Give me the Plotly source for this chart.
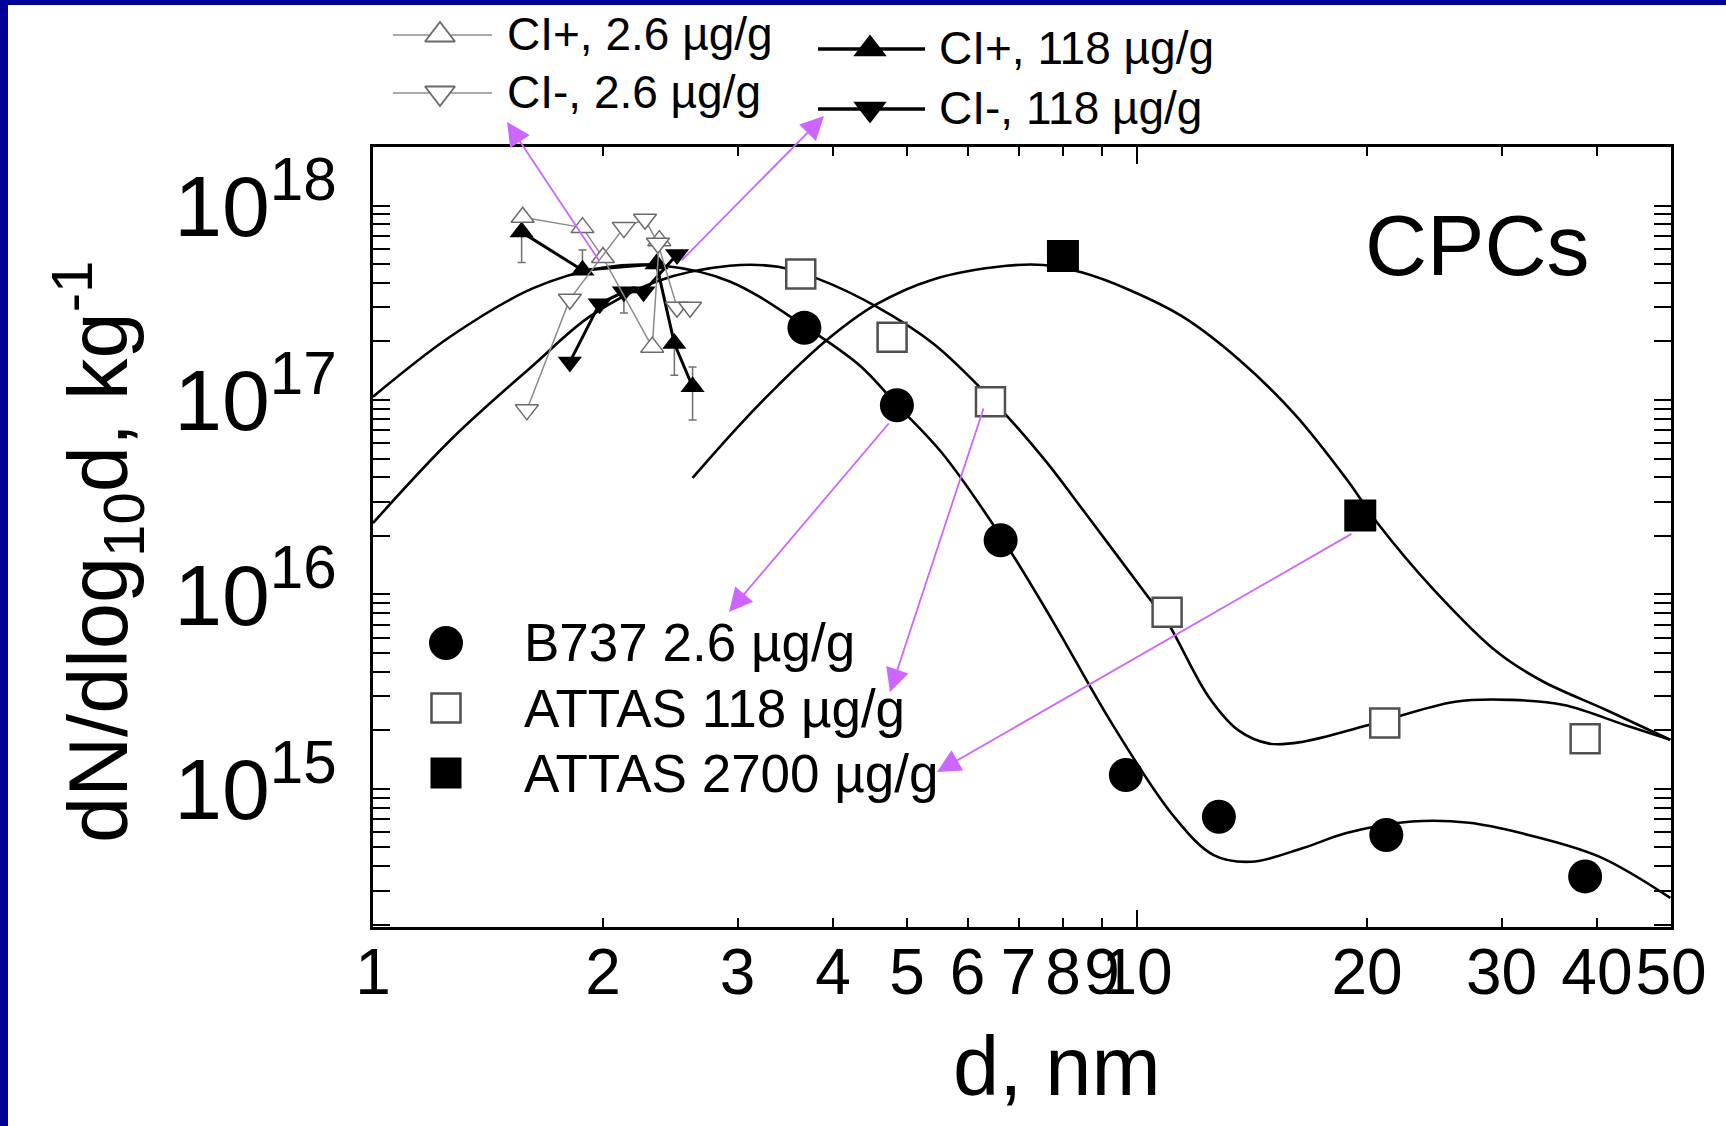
import numpy as np
import plotly.graph_objects as go

W, H = 1726, 1126
PL, PR, PT, PB = 373, 1671, 147, 927
FONT = "Liberation Sans, Arial, sans-serif"

# ---------------- data ----------------
b737_d = [3.67, 4.85, 6.63, 9.67, 12.8, 21.2, 38.6]
b737_n = [2.35e17, 9.4e16, 1.9e16, 1.18e15, 7.2e14, 5.8e14, 3.55e14]

attas118_d = [3.63, 4.78, 6.43, 10.95, 21.1, 38.6]
attas118_n = [4.45e17, 2.1e17, 9.8e16, 8.1e15, 2.18e15, 1.81e15]

attas2700_d = [8.0, 19.6]
attas2700_n = [5.5e17, 2.55e16]

fit_b737_d = [1.0, 1.267, 1.621, 1.995, 2.4, 2.93, 3.67, 4.34, 4.85, 5.55, 6.63, 7.74,
              9.29, 11.17, 12.6, 14.1, 16.5, 18.8, 22.9, 27.2, 31.8, 40.2, 49.9]
fit_b737_n = [1.04e17, 2.14e17, 3.76e17, 4.79e17, 4.9e17, 4.07e17, 2.4e17, 1.5e17, 9.44e16,
              5.37e16, 2.0e16, 7.41e15, 2.14e15, 7.24e14, 4.57e14, 4.22e14, 4.97e14, 5.93e14,
              6.8e14, 6.7e14, 5.93e14, 4.5e14, 2.75e14]

fit_118_d = [1.0, 1.267, 1.621, 1.923, 2.35, 2.93, 3.39, 3.84, 4.56, 5.41, 6.43, 7.55, 8.59,
             10.33, 10.95, 12.4, 13.58, 14.9, 16.5, 20.1, 26.1, 30.9, 36.2, 44.0, 49.9]
fit_118_n = [2.33e16, 6.3e16, 1.51e17, 2.69e17, 4.07e17, 4.9e17, 4.84e17, 4.17e17, 3.02e17,
             1.95e17, 1.02e17, 5.0e16, 2.57e16, 9.77e15, 7.24e15, 2.99e15, 2.0e15, 1.71e15,
             1.75e15, 2.13e15, 2.81e15, 2.87e15, 2.7e15, 2.1e15, 1.79e15]

fit_2700_d = [2.62, 3.0, 3.39, 3.93, 4.55, 5.41, 6.75, 7.54, 8.48, 9.79, 11.46, 13.58, 16.1,
              18.83, 20.63, 24.4, 29.7, 33.9, 41.2, 49.9]
fit_2700_n = [3.98e16, 7.24e16, 1.19e17, 2.04e17, 3.09e17, 4.17e17, 4.9e17, 4.95e17, 4.52e17,
              3.67e17, 2.69e17, 1.62e17, 8.41e16, 3.89e16, 2.34e16, 1.07e16, 5.01e15, 3.59e15,
              2.54e15, 1.79e15]

ci_pos_26_d = [1.57, 1.88, 2.0, 2.32, 2.37]
ci_pos_26_n = [8.7e17, 7.7e17, 5.4e17, 1.87e17, 6.6e17]

ci_neg_26_d = [1.59, 1.81, 2.13, 2.27, 2.36, 2.5, 2.6]
ci_neg_26_n = [8.9e16, 3.3e17, 7.7e17, 8.5e17, 6.4e17, 3.0e17, 3.0e17]

ci_pos_118_d = [1.565, 1.88, 2.35, 2.48, 2.62]
ci_pos_118_n = [7.3e17, 4.65e17, 5.0e17, 1.95e17, 1.17e17]
ci_pos_118_err_up = [None, 1.25e17, None, None, 3.1e16]
ci_pos_118_err_dn = [2.2e17, None, None, 6.1e16, 3.8e16]

ci_neg_118_d = [1.81, 1.98, 2.13, 2.26, 2.5]
ci_neg_118_n = [1.57e17, 3.13e17, 3.6e17, 3.6e17, 5.6e17]
ci_neg_118_err_up = [None, None, None, None, None]
ci_neg_118_err_dn = [None, None, 8.0e16, None, None]

x_tickvals = [1, 2, 3, 4, 5, 6, 7, 8, 9, 10, 20, 30, 40, 50]
x_ticktext = ["1", "2", "3", "4", "5", "6", "7", "8", "9", "10", "20", "30", "40", "50"]
y_tickvals = [1e15, 1e16, 1e17, 1e18]
y_ticktext = ["10<sup>15</sup>", "10<sup>16</sup>", "10<sup>17</sup>", "10<sup>18</sup>"]

x_title = "d, nm"
y_title = "dN/dlog<sub>10</sub>d, kg<sup>-1</sup>"
panel_label = "CPCs"
legend_top = ["CI+, 2.6 µg/g", "CI-, 2.6 µg/g", "CI+, 118 µg/g", "CI-, 118 µg/g"]
legend_in = ["B737 2.6 µg/g", "ATTAS 118 µg/g", "ATTAS 2700 µg/g"]

# ---------------- styles ----------------
GREY_LINE = "#8c8c8c"
GREY_EDGE = "#6a6a6a"
VIOLET = "#CC66FF"

fig = go.Figure()

# fitted curves
for d, n in [(fit_b737_d, fit_b737_n), (fit_118_d, fit_118_n), (fit_2700_d, fit_2700_n)]:
    fig.add_trace(go.Scatter(x=d, y=n, mode="lines",
                             line=dict(color="black", width=2.6, shape="spline", smoothing=1.0),
                             hoverinfo="skip"))

err_style = dict(type="data", symmetric=False, color="#707070", thickness=1.5, width=4)

# CI 118 (filled)
fig.add_trace(go.Scatter(x=ci_pos_118_d, y=ci_pos_118_n, mode="lines+markers",
                         line=dict(color="black", width=3),
                         marker=dict(symbol="triangle-up", size=21, color="black"),
                         error_y=dict(array=ci_pos_118_err_up, arrayminus=ci_pos_118_err_dn, **err_style)))
fig.add_trace(go.Scatter(x=ci_neg_118_d, y=ci_neg_118_n, mode="lines+markers",
                         line=dict(color="black", width=3),
                         marker=dict(symbol="triangle-down", size=21, color="black"),
                         error_y=dict(array=ci_neg_118_err_up, arrayminus=ci_neg_118_err_dn, **err_style)))
# CI 2.6 (open)
fig.add_trace(go.Scatter(x=ci_pos_26_d, y=ci_pos_26_n, mode="lines+markers",
                         line=dict(color=GREY_LINE, width=1.5),
                         marker=dict(symbol="triangle-up", size=20, color="white",
                                     line=dict(color=GREY_EDGE, width=1.5))))
fig.add_trace(go.Scatter(x=ci_neg_26_d, y=ci_neg_26_n, mode="lines+markers",
                         line=dict(color=GREY_LINE, width=1.5),
                         marker=dict(symbol="triangle-down", size=20, color="white",
                                     line=dict(color=GREY_EDGE, width=1.5))))

# measured CPC data
fig.add_trace(go.Scatter(x=b737_d, y=b737_n, mode="markers",
                         marker=dict(symbol="circle", size=34, color="black")))
fig.add_trace(go.Scatter(x=attas118_d, y=attas118_n, mode="markers",
                         marker=dict(symbol="square", size=29, color="white",
                                     line=dict(color="#505050", width=2.5))))
fig.add_trace(go.Scatter(x=attas2700_d, y=attas2700_n, mode="markers",
                         marker=dict(symbol="square", size=32, color="black")))

# empty trace on the helper axis that carries the long tick at 10
fig.add_trace(go.Scatter(x=[], y=[], xaxis="x3", yaxis="y", hoverinfo="skip"))

# ---------------- hand-made legends (pixel overlay axes) ----------------
def legend_glyph(x0, x1, y, xm, lcolor, lwidth, marker):
    fig.add_trace(go.Scatter(x=[x0, x1], y=[y, y], mode="lines", xaxis="x2", yaxis="y2",
                             line=dict(color=lcolor, width=lwidth), hoverinfo="skip", cliponaxis=False))
    fig.add_trace(go.Scatter(x=[xm], y=[y], mode="markers", xaxis="x2", yaxis="y2",
                             marker=marker, hoverinfo="skip", cliponaxis=False))

legend_glyph(393, 492, 35, 440, GREY_LINE, 1.5,
             dict(symbol="triangle-up", size=26, color="white", line=dict(color=GREY_EDGE, width=1.8)))
legend_glyph(393, 492, 93, 440, GREY_LINE, 1.5,
             dict(symbol="triangle-down", size=26, color="white", line=dict(color=GREY_EDGE, width=1.8)))
legend_glyph(818, 925, 49, 870, "black", 3.5, dict(symbol="triangle-up", size=29, color="black"))
legend_glyph(818, 925, 109, 870, "black", 3.5, dict(symbol="triangle-down", size=29, color="black"))

fig.add_trace(go.Scatter(x=[446], y=[643], mode="markers", xaxis="x2", yaxis="y2", hoverinfo="skip",
                         marker=dict(symbol="circle", size=34, color="black")))
fig.add_trace(go.Scatter(x=[446], y=[708], mode="markers", xaxis="x2", yaxis="y2", hoverinfo="skip",
                         marker=dict(symbol="square", size=29, color="white", line=dict(color="#505050", width=2.5))))
fig.add_trace(go.Scatter(x=[446], y=[773], mode="markers", xaxis="x2", yaxis="y2", hoverinfo="skip",
                         marker=dict(symbol="square", size=31, color="black")))

annotations = []
for txt, x, y in [(legend_top[0], 505, 34), (legend_top[1], 505, 92),
                  (legend_top[2], 937, 48), (legend_top[3], 937, 108)]:
    annotations.append(dict(text=txt, x=x, y=y, xref="x2", yref="y2", xanchor="left", yanchor="middle",
                            showarrow=False, font=dict(size=46, color="black", family=FONT)))
for txt, y in zip(legend_in, [642, 708, 773]):
    annotations.append(dict(text=txt, x=522, y=y, xref="x2", yref="y2", xanchor="left", yanchor="middle",
                            showarrow=False, font=dict(size=53, color="black", family=FONT)))
annotations.append(dict(text=panel_label, x=1477, y=245, xref="x2", yref="y2", xanchor="center",
                        yanchor="middle", showarrow=False, font=dict(size=86, color="black", family=FONT)))
# axis titles
annotations.append(dict(text=x_title, x=1057, y=1066, xref="x2", yref="y2", xanchor="center",
                        yanchor="middle", showarrow=False, font=dict(size=83, color="black", family=FONT)))
annotations.append(dict(text=y_title, x=97, y=552, xref="x2", yref="y2", xanchor="center",
                        yanchor="middle", textangle=-90, showarrow=False,
                        font=dict(size=83, color="black", family=FONT)))

# violet arrows: (tail_x, tail_y) -> (tip_x, tip_y)
for tx, ty, hx, hy in [(600, 262, 507, 122), (680, 262, 824, 116), (890, 422, 729, 612),
                       (984, 407, 890, 692), (1353, 533, 937, 772)]:
    annotations.append(dict(x=hx, y=hy, ax=tx, ay=ty, xref="x2", yref="y2", axref="x2", ayref="y2",
                            text="", showarrow=True, arrowhead=2, arrowsize=2.6, arrowwidth=1.8,
                            arrowcolor=VIOLET, standoff=0))

shapes = [
    dict(type="rect", xref="paper", yref="paper", x0=0, x1=8 / W, y0=0, y1=1,
         fillcolor="#000099", line=dict(width=0), layer="below"),
    dict(type="rect", xref="paper", yref="paper", x0=0, x1=1, y0=1 - 5 / H, y1=1,
         fillcolor="#000099", line=dict(width=0), layer="below"),
    # keep the right and bottom page edges white
    dict(type="rect", xref="paper", yref="paper", x0=1 - 6 / W, x1=1, y0=0, y1=1 - 5 / H,
         fillcolor="white", line=dict(width=0), layer="above"),
    dict(type="rect", xref="paper", yref="paper", x0=8 / W, x1=1, y0=0, y1=6 / H,
         fillcolor="white", line=dict(width=0), layer="above"),
]

xr = [0, np.log10(50)]
fig.update_layout(
    width=W, height=H, margin=dict(l=0, r=0, t=0, b=0, autoexpand=False),
    paper_bgcolor="white", plot_bgcolor="rgba(0,0,0,0)", showlegend=False,
    font=dict(family=FONT, color="black"),
    annotations=annotations, shapes=shapes,
    xaxis=dict(type="log", domain=[PL / W, PR / W], range=xr, anchor="y",
               tickmode="array", tickvals=x_tickvals, ticktext=x_ticktext,
               ticks="inside", ticklen=9, tickwidth=2, tickcolor="black",
               showline=True, linewidth=3, linecolor="black", mirror="allticks",
               showgrid=False, zeroline=False, tickangle=0,
               tickfont=dict(size=64, color="black", family=FONT), ticklabelstandoff=-13),
    xaxis3=dict(type="log", overlaying="x", anchor="y", range=xr, side="bottom",
                tickmode="array", tickvals=[10], ticks="inside", ticklen=17, tickwidth=2,
                tickcolor="black", showticklabels=False, showline=True, linewidth=3,
                linecolor="black", mirror="allticks", showgrid=False, zeroline=False),
    yaxis=dict(type="log", domain=[(H - PB) / H, (H - PT) / H],
               range=[np.log10(1.95e14), np.log10(2e18)], anchor="x",
               tickmode="array", tickvals=y_tickvals, ticktext=y_ticktext,
               ticks="inside", ticklen=17, tickwidth=2, tickcolor="black",
               minor=dict(ticks="inside", ticklen=10, tickwidth=2, tickcolor="black", dtick="D1"),
               showline=True, linewidth=3, linecolor="black", mirror="allticks",
               showgrid=False, zeroline=False,
               tickfont=dict(size=86, color="black", family=FONT), ticklabelstandoff=16),
    xaxis2=dict(domain=[0, 1], range=[0, W], anchor="y2", visible=False, fixedrange=True),
    yaxis2=dict(domain=[0, 1], range=[H, 0], anchor="x2", visible=False, fixedrange=True),
)

fig.write_html("out.html")
